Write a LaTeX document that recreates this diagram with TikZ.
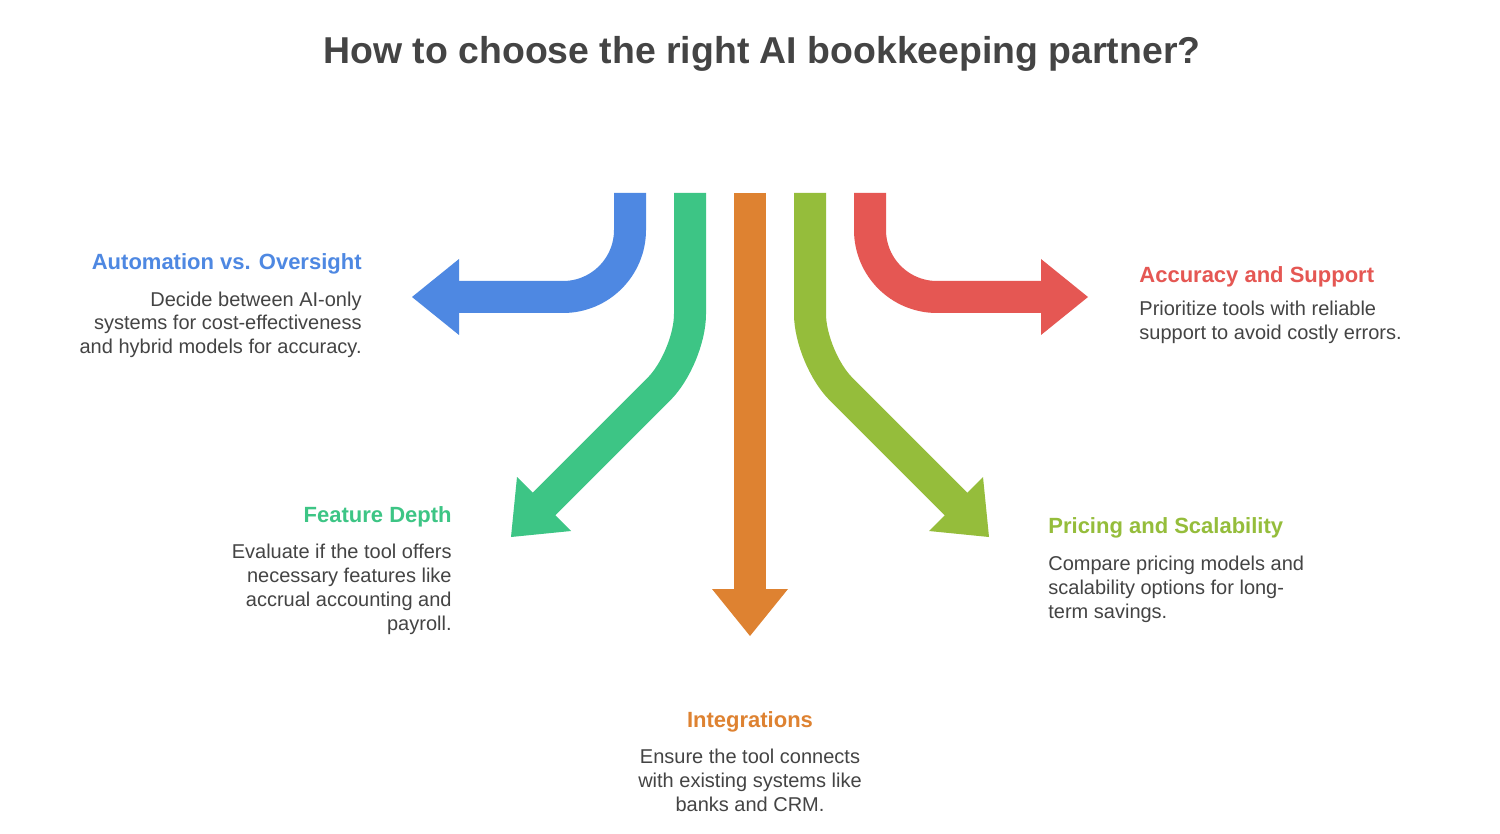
\documentclass[tikz,border=0pt]{standalone}
\usepackage{fontspec}
\setmainfont{Liberation Sans}
\definecolor{cblue}{HTML}{4E88E2}
\definecolor{cgreen}{HTML}{3DC585}
\definecolor{corange}{HTML}{DE8231}
\definecolor{clime}{HTML}{95BD3B}
\definecolor{cred}{HTML}{E55753}
\definecolor{cgray}{HTML}{444444}
\begin{document}
\begin{tikzpicture}[x=0.5pt,y=-0.5pt,
  shaft/.style={line width=16pt},
  title/.style={font=\fontsize{18.7}{22}\selectfont\bfseries, text=cgray, inner sep=0},
  heading/.style={font=\fontsize{11}{13}\selectfont\bfseries, inner sep=0},
  body/.style={font=\fontsize{10}{12}\selectfont, text=cgray, inner sep=0}]
\useasboundingbox[fill=white] (0,0) rectangle (1500,834);

% arrows
\draw[shaft, cblue, rounded corners=33.5pt] (630,193) -- (630,297) -- (452,297);
\fill[cblue] (459,259) -- (412,297) -- (459,335) -- cycle;

\draw[shaft, cgreen, rounded corners=22pt] (690,193) -- (690,358) -- (540,508);
\fill[cgreen] (517,477) -- (511,537) -- (571,531) -- cycle;

\draw[shaft, corange] (750,193) -- (750,596);
\fill[corange] (712,589) -- (750,636) -- (788,589) -- cycle;

\draw[shaft, clime, rounded corners=22pt] (810,193) -- (810,358) -- (960,508);
\fill[clime] (983,477) -- (989,537) -- (929,531) -- cycle;

\draw[shaft, cred, rounded corners=33.5pt] (870,193) -- (870,297) -- (1048,297);
\fill[cred] (1041,259) -- (1088,297) -- (1041,335) -- cycle;

% texts
\node[title, anchor=base] (title) at (762,64) {How to choose the right AI bookkeeping partner?};

\node[heading, text=cblue, anchor=base east] (h1) at (362,270) {Automation vs. Oversight};
\node[body, align=right, anchor=base east] (b1) at (362,354) {Decide between AI-only\\systems for cost-effectiveness\\and hybrid models for accuracy.};

\node[heading, text=cred, anchor=base west] (h2) at (1139,283) {Accuracy and Support};
\node[body, align=left, anchor=base west] (b2) at (1139,340) {Prioritize tools with reliable\\support to avoid costly errors.};

\node[heading, text=cgreen, anchor=base east] (h3) at (452,522) {Feature Depth};
\node[body, align=right, anchor=base east] (b3) at (452,630) {Evaluate if the tool offers\\necessary features like\\accrual accounting and\\payroll.};

\node[heading, text=clime, anchor=base west] (h4) at (1048,533) {Pricing and Scalability};
\node[body, align=left, anchor=base west] (b4) at (1048,618) {Compare pricing models and\\scalability options for long-\\term savings.};

\node[heading, text=corange, anchor=base] (h5) at (750,727) {Integrations};
\node[body, align=center, anchor=base] (b5) at (750,811) {Ensure the tool connects\\with existing systems like\\banks and CRM.};
\end{tikzpicture}
\end{document}
